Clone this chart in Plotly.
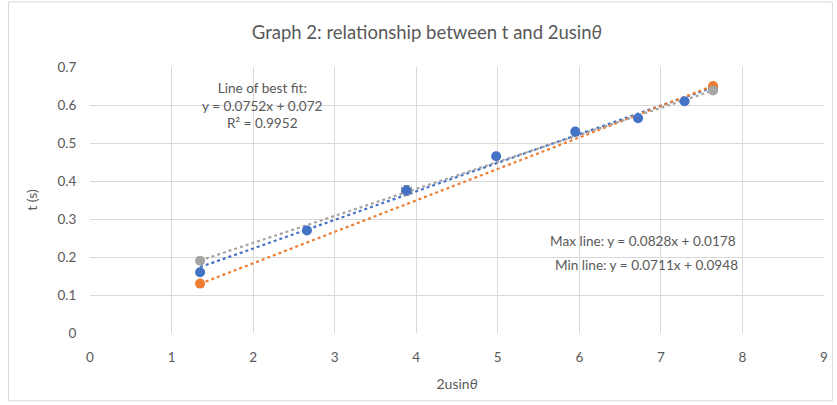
import numpy as np
import plotly.graph_objects as go

# Measured data: 2u sin(theta) against flight time t
x_meas = [1.35, 2.66, 3.88, 4.98, 5.95, 6.72, 7.29, 7.64]
t_meas = [0.16, 0.27, 0.375, 0.465, 0.53, 0.565, 0.61, 0.645]
t_err = [0.007, 0.007, 0.013, 0.007, 0.007, 0.007, 0.007, 0.007]
x_err = [0.0, 0.0, 0.06, 0.0, 0.0, 0.0, 0.0, 0.0]

# Extreme points used for the max / min gradient lines
x_max_pts = [1.35, 7.64]
t_max_pts = [0.13, 0.65]
x_min_pts = [1.35, 7.64]
t_min_pts = [0.19, 0.638]

# Fitted line coefficients (gradient, intercept)
fit_best = (0.0752, 0.072)
fit_max = (0.0828, 0.0178)
fit_min = (0.0711, 0.0948)
r2_best = 0.9952

x_ticks = [0, 1, 2, 3, 4, 5, 6, 7, 8, 9]
y_ticks = [0, 0.1, 0.2, 0.3, 0.4, 0.5, 0.6, 0.7]

BLUE = "#4472C4"
ORANGE = "#ED7D31"
GREY = "#A5A5A5"
TEXT = "#595959"
GRID = "#D9D9D9"
FONT = "Lato, Carlito, 'Open Sans', sans-serif"


def line_pts(xs, coeffs):
    xs = np.array([min(xs), max(xs)])
    return xs, coeffs[0] * xs + coeffs[1]


fig = go.Figure()

# Dotted trend lines
for xs, coeffs, col in [(x_meas, fit_best, BLUE), (x_max_pts, fit_max, ORANGE), (x_min_pts, fit_min, GREY)]:
    lx, ly = line_pts(xs, coeffs)
    fig.add_trace(go.Scatter(x=lx, y=ly, mode="lines",
                             line=dict(color=col, width=2.2, dash="dot"),
                             hoverinfo="skip", showlegend=False))

fig.add_trace(go.Scatter(
    x=x_meas, y=t_meas, mode="markers",
    marker=dict(color=BLUE, size=10),
    error_y=dict(type="data", array=t_err, color="#8C8C8C", thickness=1, width=3),
    error_x=dict(type="data", array=x_err, color="#8C8C8C", thickness=1, width=4),
    showlegend=False))
fig.add_trace(go.Scatter(x=x_max_pts, y=t_max_pts, mode="markers",
                         marker=dict(color=ORANGE, size=10), showlegend=False))
fig.add_trace(go.Scatter(x=x_min_pts, y=t_min_pts, mode="markers",
                         marker=dict(color=GREY, size=10), showlegend=False))

ANN_FONT = dict(family=FONT, size=13.6, color=TEXT)
fig.add_annotation(
    x=2.12, y=0.60, xref="x", yref="y", showarrow=False,
    text=f"Line of best fit:<br>y = {fit_best[0]}x + {fit_best[1]}<br>R² = {r2_best}",
    font=ANN_FONT, align="center")
fig.add_annotation(
    x=6.78, y=0.243, xref="x", yref="y", showarrow=False,
    text=f"Max line: y = {fit_max[0]}x + {fit_max[1]}", font=ANN_FONT)
fig.add_annotation(
    x=6.82, y=0.178, xref="x", yref="y", showarrow=False,
    text=f"Min line: y = {fit_min[0]}x + {fit_min[1]}", font=ANN_FONT)

# Outer chart border
fig.add_shape(type="rect", xref="paper", yref="paper",
              x0=-0.111, x1=1.0115, y0=-0.255, y1=1.245,
              line=dict(color=GRID, width=1), layer="below")

fig.update_layout(
    width=837, height=405,
    margin=dict(l=90, r=9, t=67, b=72),
    paper_bgcolor="white", plot_bgcolor="white",
    font=dict(family=FONT, color=TEXT, size=13.5),
    title=dict(text="Graph 2: relationship between t and 2usin<i>θ</i>",
               x=0.51, xref="container", xanchor="center", y=0.92, yanchor="middle",
               font=dict(family=FONT, size=18.5, color=TEXT)),
    xaxis=dict(range=[0, 9], tickvals=x_ticks, showgrid=True, gridcolor=GRID,
               zeroline=False, showline=False, ticks="outside", ticklen=12,
               tickcolor="rgba(0,0,0,0)",
               title=dict(text="2usin<i>θ</i>", standoff=14,
                          font=dict(family=FONT, size=14, color=TEXT))),
    yaxis=dict(range=[0, 0.7], tickvals=y_ticks, showgrid=True, gridcolor=GRID,
               zeroline=False, showline=False, ticks="outside", ticklen=10,
               tickcolor="rgba(0,0,0,0)",
               title=dict(text="t (s)", standoff=16,
                          font=dict(family=FONT, size=14, color=TEXT))),
)

fig.write_html("out.html")
